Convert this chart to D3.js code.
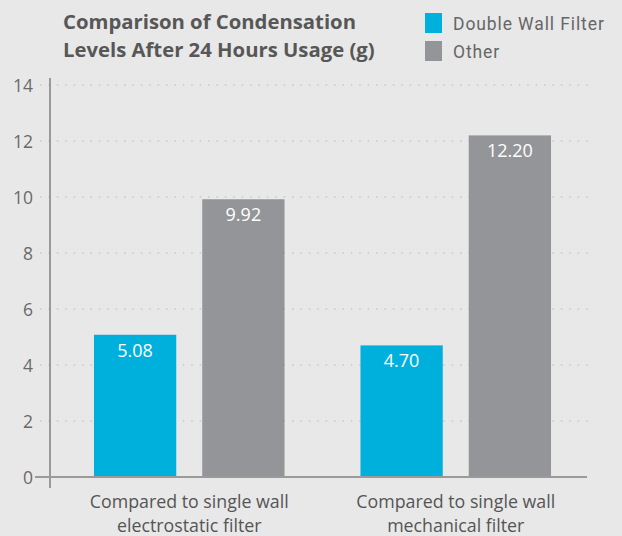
<!DOCTYPE html>
<html>
<head>
<meta charset="utf-8">
<script src="https://cdn.jsdelivr.net/npm/d3@7/dist/d3.min.js"></script>
<style>
  html, body { margin: 0; padding: 0; background: #e8e8e8; }
  svg { display: block; }
</style>
</head>
<body>
<svg id="chart" width="622" height="536"></svg>
<script>
// Condensation (g) after 24 hours, per comparison group
const categories = [
  ["Compared to single wall", "electrostatic filter"],
  ["Compared to single wall", "mechanical filter"]
];
const seriesNames = ["Double Wall Filter", "Other"];
const doubleWallValues = [5.08, 4.70];
const otherValues = [9.92, 12.20];
const yTicks = [0, 2, 4, 6, 8, 10, 12, 14];
const titleLines = ["Comparison of Condensation", "Levels After 24 Hours Usage (g)"];

const colors = ["#00b0dc", "#939598"];
const seriesValues = [doubleWallValues, otherValues];

const svg = d3.select("#chart");

const plot = { left: 50, right: 588, top: 85, bottom: 477 };

const y = d3.scaleLinear().domain([0, 14]).range([plot.bottom, plot.top]);

const x0 = d3.scaleBand()
  .domain(d3.range(categories.length))
  .range([54, 591])
  .paddingInner(0.285)
  .paddingOuter(0.15);

const x1 = d3.scaleBand()
  .domain(d3.range(seriesNames.length))
  .range([0, x0.bandwidth()])
  .paddingInner(0.24);

// dotted gridlines
const grid = svg.append("g");
grid.selectAll("line")
  .data(yTicks.filter(d => d > 0))
  .join("line")
  .attr("x1", 40).attr("x2", plot.right)
  .attr("y1", d => y(d)).attr("y2", d => y(d))
  .attr("stroke", "#c9c9c9")
  .attr("stroke-width", 1.6)
  .attr("stroke-dasharray", "1.6 6.8");

// y tick labels
const yAxis = d3.axisLeft(y).tickValues(yTicks).tickSize(0).tickPadding(0);
const yg = svg.append("g").attr("transform", `translate(33,0)`).call(yAxis);
yg.select(".domain").remove();
yg.selectAll("text")
  .attr("font-family", "'Open Sans', sans-serif")
  .attr("font-size", 17.5)
  .attr("fill", "#6a6a6a")
  .attr("dy", "0.36em");

// bars
const groups = svg.append("g").selectAll("g")
  .data(categories.map((c, i) => i))
  .join("g")
  .attr("transform", i => `translate(${x0(i)},0)`);

groups.selectAll("rect")
  .data(i => seriesValues.map((vals, s) => ({ s, v: vals[i] })))
  .join("rect")
  .attr("x", d => x1(d.s))
  .attr("width", x1.bandwidth())
  .attr("y", d => y(d.v))
  .attr("height", d => y(0) - y(d.v))
  .attr("fill", d => colors[d.s]);

groups.selectAll("text.val")
  .data(i => seriesValues.map((vals, s) => ({ s, v: vals[i] })))
  .join("text")
  .attr("class", "val")
  .attr("x", d => x1(d.s) + x1.bandwidth() / 2)
  .attr("y", d => y(d.v) + 22)
  .attr("text-anchor", "middle")
  .attr("font-family", "'Open Sans', sans-serif")
  .attr("font-size", 18)
  .attr("fill", "#ffffff")
  .text(d => d.v.toFixed(2));

// axis lines
svg.append("line")
  .attr("x1", 35).attr("x2", 587)
  .attr("y1", y(0)).attr("y2", y(0))
  .attr("stroke", "#9a9a9a").attr("stroke-width", 2);
svg.append("line")
  .attr("x1", plot.left).attr("x2", plot.left)
  .attr("y1", 78).attr("y2", 488)
  .attr("stroke", "#9a9a9a").attr("stroke-width", 2);

// category labels
const cat = svg.append("g");
categories.forEach((lines, i) => {
  const cx = x0(i) + x0.bandwidth() / 2;
  lines.forEach((t, k) => {
    cat.append("text")
      .attr("x", cx)
      .attr("y", 508 + k * 23.5)
      .attr("text-anchor", "middle")
      .attr("font-family", "'Open Sans', sans-serif")
      .attr("font-size", 17.8)
      .attr("fill", "#555555")
      .text(t);
  });
});

// title
titleLines.forEach((t, k) => {
  svg.append("text")
    .attr("x", 63)
    .attr("y", 29 + k * 28)
    .attr("font-family", "'Open Sans', sans-serif")
    .attr("font-weight", 700)
    .attr("font-size", 20.3)
    .attr("fill", "#575757")
    .text(t);
});

// legend
const legend = svg.append("g");
seriesNames.forEach((name, s) => {
  legend.append("rect")
    .attr("x", 425).attr("y", 13 + s * 28)
    .attr("width", 17).attr("height", 20)
    .attr("fill", colors[s]);
  legend.append("text")
    .attr("x", 453).attr("y", 30 + s * 28)
    .attr("font-family", "Roboto, sans-serif")
    .attr("font-size", 17.5)
    .attr("letter-spacing", 0.9)
    .attr("fill", "#666666")
    .text(name);
});
</script>
</body>
</html>
